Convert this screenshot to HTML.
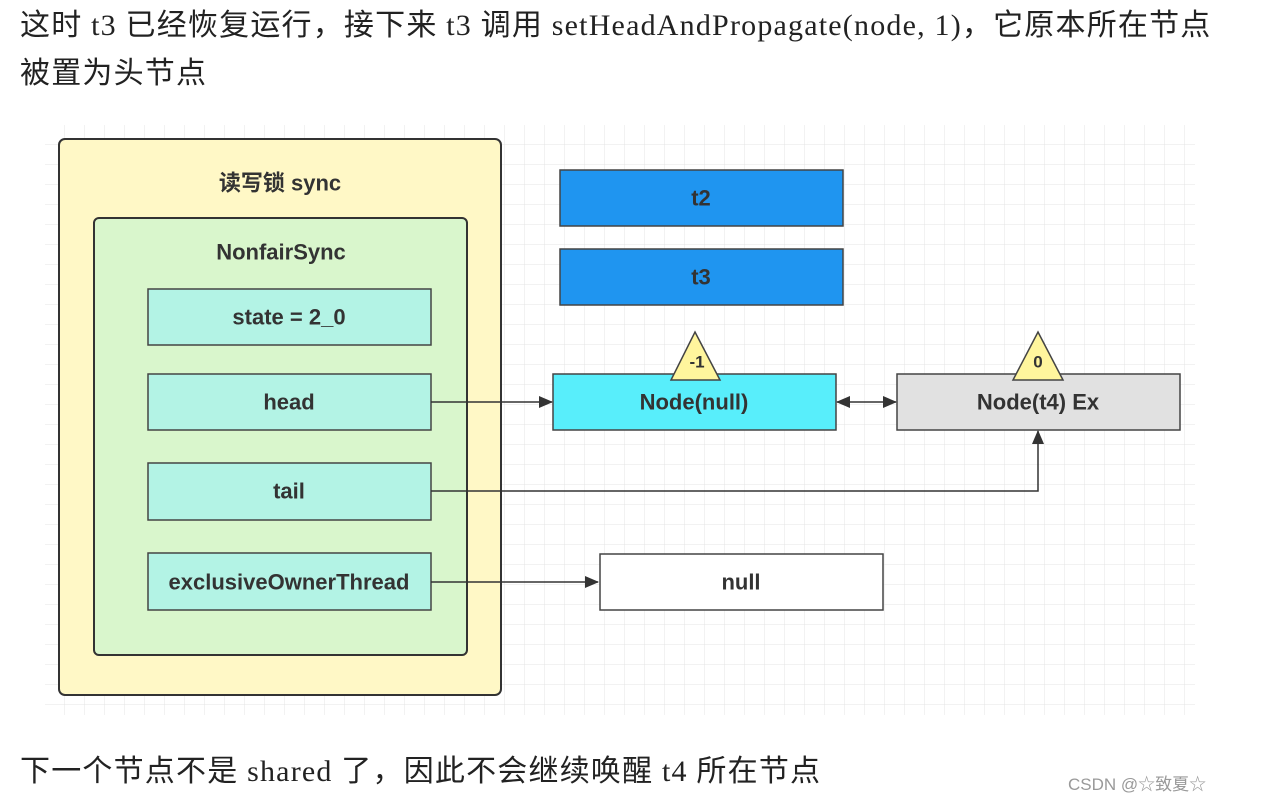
<!DOCTYPE html>
<html><head><meta charset="utf-8"><style>
body{margin:0;width:1261px;height:803px;background:#fff;overflow:hidden;position:relative;font-family:"Liberation Serif","Noto Sans CJK SC",serif;}
.t{position:absolute;left:20px;font-size:30px;letter-spacing:1.2px;color:#222;white-space:nowrap;}
svg{position:absolute;left:0;top:0}
svg text{font-family:"Liberation Sans","Noto Sans CJK SC",sans-serif;font-weight:bold;font-size:22px;fill:#333;text-anchor:middle;dominant-baseline:central}
</style></head><body>
<div class="t" style="top:0px">这时 t3 已经恢复运行，接下来 t3 调用 setHeadAndPropagate(node, 1)，它原本所在节点</div>
<div class="t" style="top:48px">被置为头节点</div>
<div class="t" style="top:746px">下一个节点不是 shared 了，因此不会继续唤醒 t4 所在节点</div>
<div style="position:absolute;left:1068px;top:770px;font-family:'Liberation Sans','Noto Sans CJK SC',sans-serif;font-size:17px;color:#999">CSDN @☆致夏☆</div>
<svg width="1261" height="803">
<defs>
<pattern id="g" width="20" height="20" patternUnits="userSpaceOnUse" x="45" y="125"><path d="M20 0V20H0" fill="none" stroke="#e4e4e4" stroke-width="1"/></pattern>
<marker id="a" markerWidth="14" markerHeight="12" refX="13" refY="6" orient="auto" markerUnits="userSpaceOnUse"><path d="M0 0L14 6L0 12z" fill="#333"/></marker>
<marker id="b" markerWidth="14" markerHeight="12" refX="1" refY="6" orient="auto" markerUnits="userSpaceOnUse"><path d="M14 0L0 6L14 12z" fill="#333"/></marker>
</defs>
<rect x="45" y="125" width="1150" height="590" fill="url(#g)"/>
<rect x="59" y="139" width="442" height="556" rx="6" fill="#fff8c6" stroke="#333" stroke-width="2"/>
<text x="280" y="183">读写锁 sync</text>
<rect x="94" y="218" width="373" height="437" rx="5" fill="#d9f6cc" stroke="#333" stroke-width="2"/>
<text x="281" y="252">NonfairSync</text>
<g stroke="#444" stroke-width="1.5" fill="#b3f3e5">
<rect x="148" y="289" width="283" height="56"/>
<rect x="148" y="374" width="283" height="56"/>
<rect x="148" y="463" width="283" height="57"/>
<rect x="148" y="553" width="283" height="57"/>
</g>
<text x="289" y="317">state = 2_0</text>
<text x="289" y="402">head</text>
<text x="289" y="491">tail</text>
<text x="289" y="582">exclusiveOwnerThread</text>
<rect x="560" y="170" width="283" height="56" fill="#1f95f0" stroke="#444" stroke-width="1.5"/>
<text x="701" y="198">t2</text>
<rect x="560" y="249" width="283" height="56" fill="#1f95f0" stroke="#444" stroke-width="1.5"/>
<text x="701" y="277">t3</text>
<rect x="553" y="374" width="283" height="56" fill="#58eefb" stroke="#444" stroke-width="1.5"/>
<text x="694" y="402">Node(null)</text>
<rect x="897" y="374" width="283" height="56" fill="#e1e1e1" stroke="#444" stroke-width="1.5"/>
<text x="1038" y="402">Node(t4) Ex</text>
<rect x="600" y="554" width="283" height="56" fill="#fff" stroke="#444" stroke-width="1.5"/>
<text x="741" y="582">null</text>
<path d="M695 332L720 380H671z" fill="#fff59d" stroke="#444" stroke-width="1.5"/>
<text x="697" y="362" style="font-size:17px">-1</text>
<path d="M1038 332L1063 380H1013z" fill="#fff59d" stroke="#444" stroke-width="1.5"/>
<text x="1038" y="362" style="font-size:17px">0</text>
<g stroke="#333" stroke-width="1.5" fill="none">
<line x1="431" y1="402" x2="552" y2="402" marker-end="url(#a)"/>
<line x1="837" y1="402" x2="896" y2="402" marker-start="url(#b)" marker-end="url(#a)"/>
<polyline points="431,491 1038,491 1038,431" marker-end="url(#a)"/>
<line x1="431" y1="582" x2="598" y2="582" marker-end="url(#a)"/>
</g>
</svg>
</body></html>
